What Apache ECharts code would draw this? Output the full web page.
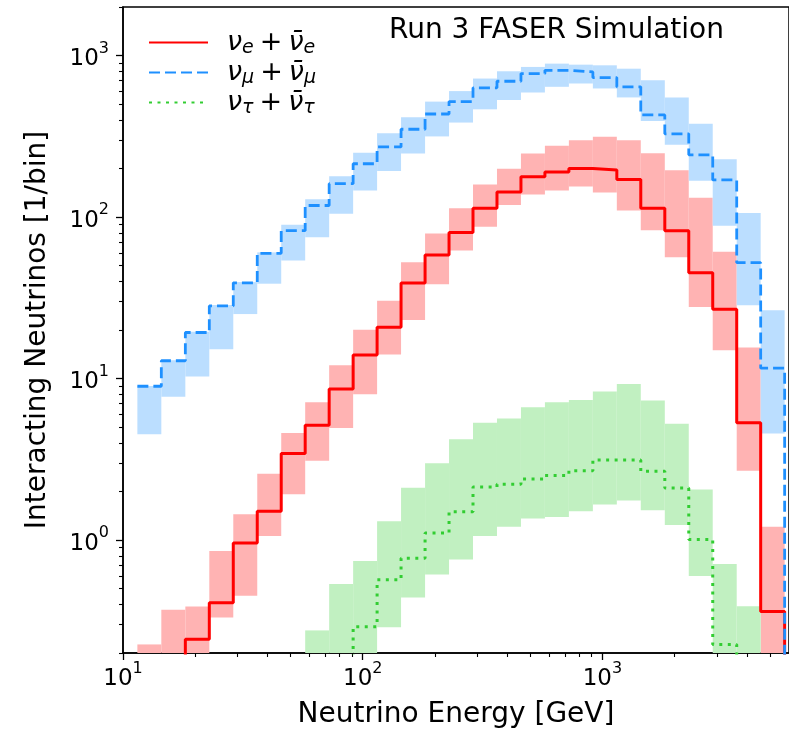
<!DOCTYPE html>
<html>
<head>
<meta charset="utf-8">
<script src="https://cdn.jsdelivr.net/npm/echarts@6/dist/echarts.min.js"></script>
<style>
  html, body { margin: 0; padding: 0; background: #ffffff; }
  #chart { width: 789px; height: 734px; }
</style>
</head>
<body>
<div id="chart"></div>
<script>
// ---------------- data ----------------
// Bin edges of the energy histogram [GeV] (10 log bins per decade)
const energyEdges = [11.48, 14.45, 18.20, 22.91, 28.84, 36.31, 45.71, 57.54, 72.44, 91.20,
  114.8, 144.5, 182.0, 229.1, 288.4, 363.1, 457.1, 575.4, 724.4, 912.0,
  1148, 1445, 1820, 2291, 2884, 3631, 4571, 5754];

// 0 = count below the visible range (not readable), null = no entry drawn
const nueCentral = [0, 0, 0.243, 0.41, 0.96, 1.51, 3.44, 5.14, 8.63, 14.0, 20.8, 39.1, 58.3, 80.4,
  113.5, 143, 178, 190, 200, 196, 171, 113.5, 82.4, 45.2, 26.9, 5.33, 0.362];
const nueLow = [0, 0, 0, 0.332, 0.453, 1.06, 1.92, 3.10, 4.95, 8.0, 14.1, 23.1, 38.4, 62.1,
  87.2, 119, 138, 146, 155, 142, 110, 83, 56.4, 27.8, 15.0, 2.69, 0];
const nueHigh = [0.226, 0.371, 0.388, 0.856, 1.445, 2.58, 4.61, 7.15, 12.1, 20.1, 30.3, 52.6, 79.3, 113.5,
  159, 199, 248, 277, 299, 314, 299, 249, 195, 132, 61, 15.6, 1.21];

const numuCentral = [8.97, 12.9, 19.3, 28.2, 39.2, 59.7, 82.4, 118, 161, 214, 272, 350, 435, 519,
  632, 694, 774, 811, 793, 731, 641, 429, 328, 243, 170, 52.2, 11.6];
const numuLow = [4.53, 7.71, 10.3, 15.2, 25.1, 38.7, 53.9, 75, 105, 146, 193, 248, 316, 385,
  465, 531, 591, 641, 672, 626, 551, 393, 281, 168, 88.3, 28.5, 4.57];
const numuHigh = [9.0, 13.0, 19.5, 28.6, 39.6, 60.5, 89.7, 129, 179, 250, 331, 415, 519, 603,
  721, 800, 851, 892, 879, 871, 830, 704, 551, 378, 228, 106, 26.5];

const nutauCentral = [null, null, null, null, null, null, null, null, 0, 0.291, 0.568, 0.772, 1.107, 1.50,
  2.13, 2.22, 2.39, 2.51, 2.69, 3.13, 3.13, 2.67, 2.10, 1.01, 0.226, 0, 0];
const nutauLow = [null, null, null, null, null, null, null, 0, 0, 0, 0.289, 0.442, 0.612, 0.759,
  1.06, 1.21, 1.36, 1.39, 1.51, 1.66, 1.76, 1.53, 1.24, 0.60, 0, 0, null];
const nutauHigh = [null, null, null, null, null, null, null, 0.276, 0.534, 0.743, 1.31, 2.11, 2.99, 4.22,
  5.33, 5.66, 6.66, 7.15, 7.36, 8.32, 9.27, 7.32, 5.26, 2.06, 0.712, 0.389, null];

// axis ticks
const xMajorTicks = [10, 100, 1000];
const xMinorTicks = [20, 30, 40, 50, 60, 70, 80, 90, 200, 300, 400, 500, 600, 700, 800, 900,
  2000, 3000, 4000, 5000];
const yMajorTicks = [1, 10, 100, 1000];
const yMinorTicks = [0.2, 0.3, 0.4, 0.5, 0.6, 0.7, 0.8, 0.9, 2, 3, 4, 5, 6, 7, 8, 9,
  20, 30, 40, 50, 60, 70, 80, 90, 200, 300, 400, 500, 600, 700, 800, 900, 2000];

const xRange = [10, 6000];
const yRange = [0.2, 2000];

const titleText = 'Run 3 FASER Simulation';
const xTitle = 'Neutrino Energy [GeV]';
const yTitle = 'Interacting Neutrinos [1/bin]';

const seriesNames = ['nu_e', 'nu_mu', 'nu_tau'];
const legendLabels = {
  nu_e: '{sp| }{n|\u03BD}{s|e}{p|+}{n|\u03BD\u0304}{s|e}',
  nu_mu: '{sp| }{n|\u03BD}{s|\u03BC}{p|+}{n|\u03BD\u0304}{s|\u03BC}',
  nu_tau: '{sp| }{n|\u03BD}{s|\u03C4}{p|+}{n|\u03BD\u0304}{s|\u03C4}'
};

// ---------------- building ----------------
const FONT = "'DejaVu Sans', sans-serif";
const BELOW = 0.01; // stand-in for an off-scale (zero / tiny) count on the log axis
const pv = v => (v === 0 ? BELOW : v);

function stepLine(vals) {
  const pts = [];
  vals.forEach((v, i) => { if (v !== null) pts.push([energyEdges[i], pv(v)]); });
  pts.push([energyEdges[vals.length], BELOW]);
  return pts;
}
function bandRects(lo, hi) {
  const d = [];
  hi.forEach((h, i) => {
    if (h !== null) d.push([energyEdges[i], energyEdges[i + 1], pv(lo[i]), h]);
  });
  return d;
}
function bandSeries(lo, hi, color) {
  return {
    type: 'custom',
    xAxisIndex: 0, yAxisIndex: 0,
    z: 1,
    silent: true,
    encode: { x: [0, 1], y: [2, 3] },
    data: bandRects(lo, hi),
    renderItem: function (params, api) {
      const p1 = api.coord([api.value(0), api.value(3)]);
      const p2 = api.coord([api.value(1), api.value(2)]);
      const cs = params.coordSys;
      const rect = echarts.graphic.clipRectByRect(
        { x: p1[0], y: p1[1], width: p2[0] - p1[0], height: p2[1] - p1[1] },
        { x: cs.x, y: cs.y, width: cs.width, height: cs.height });
      if (!rect) return null;
      return { type: 'rect', shape: rect, style: { fill: color } };
    }
  };
}
function lineSeries(name, vals, style) {
  return {
    name: name,
    type: 'line',
    xAxisIndex: 0, yAxisIndex: 0,
    z: 3,
    step: 'end',
    symbol: 'none',
    showSymbol: false,
    silent: true,
    clip: true,
    data: stepLine(vals),
    lineStyle: style
  };
}

const powLabel = v => '{b|10}{s|' + Math.round(Math.log10(v)) + '}';
const tickRich = {
  b: { fontSize: 23, fontFamily: FONT, color: '#000', lineHeight: 30, padding: [6, 0, 0, 0], verticalAlign: 'bottom' },
  s: { fontSize: 16, fontFamily: FONT, color: '#000', lineHeight: 22, verticalAlign: 'top' }
};

const chart = echarts.init(document.getElementById('chart'), null, { renderer: 'canvas' });

chart.setOption({
  animation: false,
  backgroundColor: '#ffffff',
  title: {
    text: titleText,
    left: 389, top: 17, padding: 0,
    textStyle: { fontFamily: FONT, fontSize: 28, fontWeight: 'normal', color: '#000' }
  },
  legend: {
    data: seriesNames,
    orient: 'vertical',
    left: 148, top: 29,
    padding: 0, itemGap: 1.5,
    itemWidth: 59, itemHeight: 29,
    selectedMode: false,
    itemStyle: { opacity: 0 },
    formatter: n => legendLabels[n],
    textStyle: {
      fontFamily: FONT, color: '#000',
      rich: {
        sp: { width: 14, fontSize: 10 },
        n: { fontSize: 27, fontStyle: 'italic', fontFamily: FONT, color: '#000', lineHeight: 30, verticalAlign: 'middle' },
        s: { fontSize: 19, fontStyle: 'italic', fontFamily: FONT, color: '#000', lineHeight: 16, verticalAlign: 'bottom' },
        p: { fontSize: 27, fontFamily: FONT, color: '#000', lineHeight: 30, verticalAlign: 'middle', padding: [0, 6, 0, 6] }
      }
    }
  },
  grid: {
    left: 123, top: 7, width: 666.7, height: 650,
    show: true, borderColor: '#000', borderWidth: 1.5, backgroundColor: '#fff'
  },
  xAxis: [
    {
      type: 'log', logBase: 10, min: xRange[0], max: xRange[1], position: 'bottom',
      axisLine: { show: true, onZero: false, lineStyle: { color: '#000', width: 1.5 } },
      axisTick: { show: true, customValues: xMajorTicks, length: 7, lineStyle: { color: '#000', width: 1.3 } },
      axisLabel: { customValues: xMajorTicks, formatter: powLabel, rich: tickRich, margin: 8 },
      splitLine: { show: false }, minorTick: { show: false },
      name: xTitle, nameLocation: 'middle', nameGap: 48,
      nameTextStyle: { fontFamily: FONT, fontSize: 28, color: '#000' }
    },
    {
      type: 'log', logBase: 10, min: xRange[0], max: xRange[1], position: 'bottom',
      axisLine: { show: false, onZero: false },
      axisTick: { show: true, customValues: xMinorTicks, length: 4, lineStyle: { color: '#000', width: 1.1 } },
      axisLabel: { show: false }, splitLine: { show: false }
    }
  ],
  yAxis: [
    {
      type: 'log', logBase: 10, min: yRange[0], max: yRange[1], position: 'left',
      axisLine: { show: true, onZero: false, lineStyle: { color: '#000', width: 1.5 } },
      axisTick: { show: true, customValues: yMajorTicks, length: 7, lineStyle: { color: '#000', width: 1.3 } },
      axisLabel: { customValues: yMajorTicks, formatter: powLabel, rich: tickRich, margin: 14 },
      splitLine: { show: false }, minorTick: { show: false },
      name: yTitle, nameLocation: 'middle', nameGap: 71,
      nameTextStyle: { fontFamily: FONT, fontSize: 28, color: '#000' }
    },
    {
      type: 'log', logBase: 10, min: yRange[0], max: yRange[1], position: 'left',
      axisLine: { show: false, onZero: false },
      axisTick: { show: true, customValues: yMinorTicks, length: 4, lineStyle: { color: '#000', width: 1.1 } },
      axisLabel: { show: false }, splitLine: { show: false }
    }
  ],
  series: [
    bandSeries(nueLow, nueHigh, '#ffb3b3'),
    bandSeries(numuLow, numuHigh, '#bbdeff'),
    bandSeries(nutauLow, nutauHigh, '#c1f0c1'),
    lineSeries('nu_e', nueCentral, { color: '#ff0000', width: 3 }),
    lineSeries('nu_mu', numuCentral, { color: '#1e90ff', width: 2.8, type: [11, 5] }),
    lineSeries('nu_tau', nutauCentral, { color: '#32cd32', width: 3, type: [3, 5.5] })
  ]
});
</script>
</body>
</html>
